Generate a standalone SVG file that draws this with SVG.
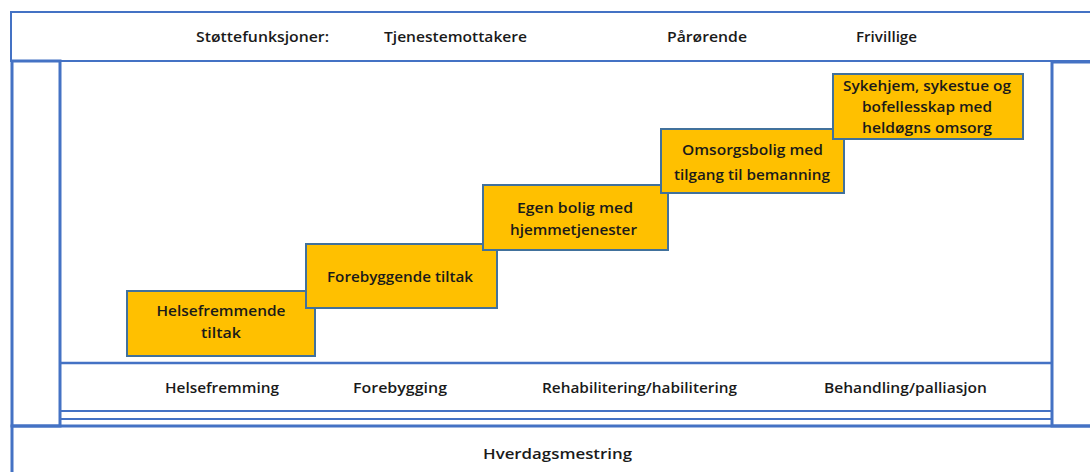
<svg xmlns="http://www.w3.org/2000/svg" width="1090" height="472" viewBox="0 0 1090 472">
<style>
.frame{fill:none;stroke:#4472C4;stroke-width:3}
.thin{fill:none;stroke:#4472C4;stroke-width:2}
.step{fill:#FFC000;stroke:#41719C;stroke-width:2}
text{font-family:"Open Sans","Noto Sans","Liberation Sans",sans-serif;font-weight:600;font-size:14px;fill:#1a1a1a;text-anchor:middle}
.big{font-size:15px}
</style>
<rect width="1090" height="472" fill="#fff"/>
<g id="top-band">
<rect class="thin" x="11" y="12" width="1100" height="49"/>
<text x="262.5" y="42" textLength="133" lengthAdjust="spacingAndGlyphs">Støttefunksjoner:</text>
<text x="455.5" y="42" textLength="143" lengthAdjust="spacingAndGlyphs">Tjenestemottakere</text>
<text x="707" y="42" textLength="80" lengthAdjust="spacingAndGlyphs">Pårørende</text>
<text x="886.5" y="42" textLength="61" lengthAdjust="spacingAndGlyphs">Frivillige</text>
</g>
<g id="left-column"><rect class="frame" x="12" y="61" width="48" height="365"/></g>
<g id="right-column"><rect class="frame" x="1052" y="62" width="60" height="364"/></g>
<g id="level-band">
<line class="frame" x1="60" y1="363" x2="1052" y2="363" style="stroke-width:2.5"/>
<line class="thin" x1="60" y1="411" x2="1052" y2="411"/>
<line class="thin" x1="60" y1="419" x2="1052" y2="419"/>
<text x="222" y="393" textLength="114" lengthAdjust="spacingAndGlyphs">Helsefremming</text>
<text x="400" y="393" textLength="94" lengthAdjust="spacingAndGlyphs">Forebygging</text>
<text x="639.5" y="393" textLength="195" lengthAdjust="spacingAndGlyphs">Rehabilitering/habilitering</text>
<text x="905.5" y="393" textLength="163" lengthAdjust="spacingAndGlyphs">Behandling/palliasjon</text>
</g>
<g id="hverdagsmestring">
<rect class="frame" x="12" y="426" width="1100" height="60"/>
<text class="big" x="557.5" y="459" textLength="149" lengthAdjust="spacingAndGlyphs">Hverdagsmestring</text>
</g>
<g id="connectors"></g>
<g id="step1">
<rect class="step" x="127" y="291" width="188" height="65"/>
<text x="221" y="316" textLength="129" lengthAdjust="spacingAndGlyphs">Helsefremmende</text>
<text x="221" y="338" textLength="40" lengthAdjust="spacingAndGlyphs">tiltak</text>
</g>
<g id="step2">
<rect class="step" x="306" y="244" width="191" height="64"/>
<text x="400" y="282" textLength="146" lengthAdjust="spacingAndGlyphs">Forebyggende tiltak</text>
</g>
<g id="step3">
<rect class="step" x="483" y="185" width="185" height="65"/>
<text x="575" y="213" textLength="116" lengthAdjust="spacingAndGlyphs">Egen bolig med</text>
<text x="573.5" y="235" textLength="127" lengthAdjust="spacingAndGlyphs">hjemmetjenester</text>
</g>
<g id="step4">
<rect class="step" x="661" y="129" width="183" height="64"/>
<text x="752.5" y="155" textLength="141" lengthAdjust="spacingAndGlyphs">Omsorgsbolig med</text>
<text x="752" y="180" textLength="156" lengthAdjust="spacingAndGlyphs">tilgang til bemanning</text>
</g>
<g id="step5">
<rect class="step" x="833" y="74" width="190" height="65"/>
<text x="927" y="91" textLength="168" lengthAdjust="spacingAndGlyphs">Sykehjem, sykestue og</text>
<text x="927" y="112" textLength="130" lengthAdjust="spacingAndGlyphs">bofellesskap med</text>
<text x="927" y="133" textLength="130" lengthAdjust="spacingAndGlyphs">heldøgns omsorg</text>
</g>
</svg>
